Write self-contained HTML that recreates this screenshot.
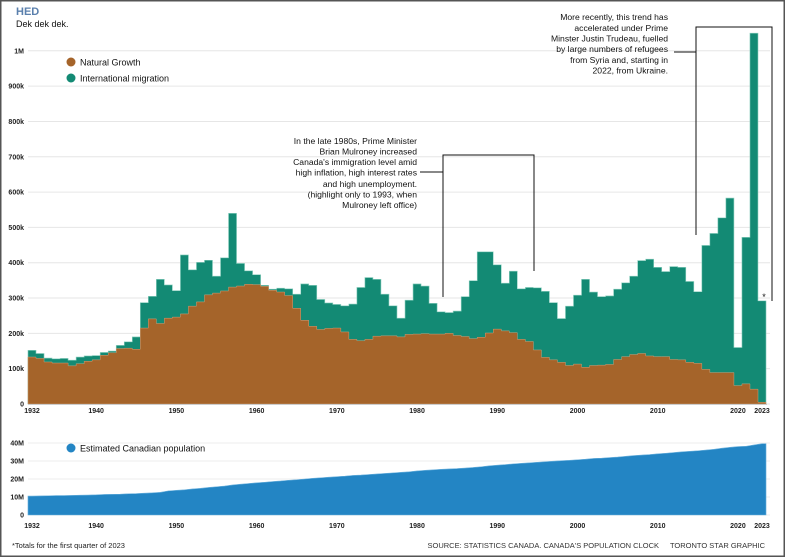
<!DOCTYPE html>
<html><head><meta charset="utf-8"><style>
html,body{margin:0;padding:0;background:#fff;}
body{width:785px;height:557px;overflow:hidden;font-family:"Liberation Sans",Arial,sans-serif;}
svg{display:block;}
text{font-family:"Liberation Sans",Arial,sans-serif;}
</style></head><body>
<svg id="chart" width="785" height="557" viewBox="0 0 785 557" xmlns="http://www.w3.org/2000/svg">
<rect x="0.75" y="0.75" width="783.5" height="555.5" fill="#fff" stroke="#555" stroke-width="1.5"/>
<text x="16" y="15" font-size="11" font-weight="bold" fill="#5b80ad">HED</text>
<text x="16" y="27" font-size="9" fill="#111">Dek dek dek.</text>
<g id="grid-top"></g>
<g id="bars"></g>
<g id="grid-bot"></g>
<g id="pop"></g>
<g id="axes"></g>
<g>
<circle cx="71" cy="62" r="4.5" fill="#a5642a"/>
<text x="80" y="65.5" font-size="9" fill="#111">Natural Growth</text>
<circle cx="71" cy="78" r="4.5" fill="#138a74"/>
<text x="80" y="81.5" font-size="9" fill="#111">International migration</text>
</g>
<g>
<circle cx="71" cy="448" r="4.5" fill="#2385c4"/>
<text x="80" y="451.5" font-size="9" fill="#111">Estimated Canadian population</text>
</g>
<g font-size="8.6" fill="#111" text-anchor="end">
<text x="417" y="144">In the late 1980s, Prime Minister</text>
<text x="417" y="154.5">Brian Mulroney increased</text>
<text x="417" y="165">Canada's immigration level amid</text>
<text x="417" y="175.5">high inflation, high interest rates</text>
<text x="417" y="187">and high unemployment.</text>
<text x="417" y="197.5">(highlight only to 1993, when</text>
<text x="417" y="208">Mulroney left office)</text>
<path d="M420 172H443M443 297V155H534V271" fill="none" stroke="#111" stroke-width="1"/>
</g>
<g font-size="8.6" fill="#111" text-anchor="end">
<text x="668" y="20">More recently, this trend has</text>
<text x="668" y="31">accelerated under Prime</text>
<text x="668" y="41.5">Minster Justin Trudeau, fuelled</text>
<text x="668" y="52">by large numbers of refugees</text>
<text x="668" y="63">from Syria and, starting in</text>
<text x="668" y="73.5">2022, from Ukraine.</text>
<path d="M674 52H696M696 235V27H772V301" fill="none" stroke="#111" stroke-width="1"/>
</g>
<text x="764" y="300" font-size="9" text-anchor="middle" fill="#111">*</text>
<text x="12" y="548" font-size="7.5" fill="#222">*Totals for the first quarter of 2023</text>
<text x="659" y="548" font-size="7.5" fill="#333" text-anchor="end">SOURCE: STATISTICS CANADA. CANADA'S POPULATION CLOCK</text>
<text x="765" y="548" font-size="7.5" fill="#333" text-anchor="end">TORONTO STAR GRAPHIC</text>
</svg>
<script>
const years = [];
for (let y = 1932; y <= 2023; y++) years.push(y);
const totalGrowth = [152,143,130,128,129,124,133,136,137,146,150,166,176,190,287,305,353,337,321,422,380,401,407,362,414,540,398,377,366,336,325,328,326,311,340,336,296,286,282,278,283,330,358,353,311,278,243,294,340,334,285,261,259,263,304,349,431,431,394,342,376,326,330,329,319,287,242,277,308,353,317,304,306,325,343,362,406,410,387,375,389,387,347,318,449,483,527,583,160,472,1050,292];
const naturalGrowth = [133,129,119,116,116,108,114,121,125,138,145,157,158,155,215,241,228,243,246,255,277,289,309,314,320,331,334,339,338,333,322,317,307,271,237,220,211,214,215,204,183,179,183,192,193,193,190,197,198,199,198,198,200,194,191,185,189,201,212,207,202,183,177,153,132,125,118,109,113,104,109,110,112,126,134,140,143,136,134,134,126,125,118,115,98,89,89,89,52,57,42,5];
const population = [10.5,10.6,10.7,10.8,10.8,10.9,11.0,11.1,11.2,11.4,11.5,11.6,11.8,11.9,12.1,12.3,12.6,13.4,13.7,14.0,14.5,14.8,15.3,15.7,16.1,16.7,17.1,17.5,17.9,18.2,18.6,18.9,19.3,19.6,20.0,20.4,20.7,21.0,21.3,21.6,22.0,22.2,22.5,22.8,23.1,23.4,23.7,24.0,24.5,24.8,25.1,25.4,25.6,25.8,26.1,26.4,26.8,27.3,27.7,28.0,28.4,28.7,29.0,29.3,29.6,29.9,30.2,30.4,30.7,31.0,31.4,31.6,31.9,32.2,32.6,33.0,33.3,33.6,34.0,34.3,34.7,35.1,35.4,35.7,36.1,36.5,37.1,37.6,38.0,38.2,38.9,39.6];
const topTicks = [0,100,200,300,400,500,600,700,800,900,1000];
const topTickLabels = ["0","100k","200k","300k","400k","500k","600k","700k","800k","900k","1M"];
const botTicks = [0,10,20,30,40];
const botTickLabels = ["0","10M","20M","30M","40M"];
const xTicks = [1932,1940,1950,1960,1970,1980,1990,2000,2010,2020,2023];

const NS = "http://www.w3.org/2000/svg";
const xs = y => 32 + (y - 1932) * 8.022;
const barW = 8.05;
const yTop = v => 404 - v * 0.3532;
const yBot = v => 515 - v * 1.8;
function mk(tag, attrs, parent){const e=document.createElementNS(NS,tag);for(const k in attrs)e.setAttribute(k,attrs[k]);parent.appendChild(e);return e;}

const gTop = document.getElementById('grid-top');
topTicks.forEach((t,i)=>{
  const l = mk('line',{x1:28,x2:770,y1:yTop(t),y2:yTop(t),stroke:'#e6e6e6','stroke-width':1},gTop);
  
  
  const tx = mk('text',{x:24,y:yTop(t)+2.5,'font-size':7,'font-weight':'bold','text-anchor':'end',fill:'#222'},gTop);
  tx.textContent = topTickLabels[i];
  
  
});
const gBars = document.getElementById('bars');
// build stepped areas from arrays
let tp = `M${xs(1932)-barW/2} ${yTop(0)}`, np = tp;
years.forEach((y,i)=>{
  const x0 = xs(y)-barW/2, x1 = xs(y)+barW/2;
  tp += `L${x0} ${yTop(totalGrowth[i])}L${x1} ${yTop(totalGrowth[i])}`;
  np += `L${x0} ${yTop(naturalGrowth[i])}L${x1} ${yTop(naturalGrowth[i])}`;
});
tp += `L${xs(2023)+barW/2} ${yTop(0)}Z`; np += `L${xs(2023)+barW/2} ${yTop(0)}Z`;
const mig = mk('path',{d:tp,fill:'#138a74',stroke:'#8fd0c0','stroke-width':0.6},gBars);


const nat = mk('path',{d:np,fill:'#a5642a',stroke:'#c9a07a','stroke-width':0.5},gBars);


const base = mk('line',{x1:28,x2:767,y1:404.5,y2:404.5,stroke:'#ccc','stroke-width':1},gBars);



const gBot = document.getElementById('grid-bot');
botTicks.forEach((t,i)=>{
  const l = mk('line',{x1:28,x2:770,y1:yBot(t),y2:yBot(t),stroke:'#eee','stroke-width':1},gBot);
  
  
  const tx = mk('text',{x:24,y:yBot(t)+2.5,'font-size':7,'font-weight':'bold','text-anchor':'end',fill:'#222'},gBot);
  tx.textContent = botTickLabels[i];
  
  
});
const gPop = document.getElementById('pop');
let pp = `M${xs(1932)-barW/2} ${yBot(0)}L${xs(1932)-barW/2} ${yBot(population[0])}`;
years.forEach((y,i)=>{ pp += `L${xs(y)} ${yBot(population[i])}`; });
pp += `L${xs(2023)+barW/2} ${yBot(population[population.length-1])}L${xs(2023)+barW/2} ${yBot(0)}Z`;
const pa = mk('path',{d:pp,fill:'#2385c4',stroke:'#6fb3de','stroke-width':0.6},gPop);



const gAx = document.getElementById('axes');
xTicks.forEach(y=>{
  [[413],[528]].forEach(([yy],k)=>{
    const tx = mk('text',{x:xs(y),y:yy,'font-size':7,'font-weight':'bold','text-anchor':'middle',fill:'#222'},gAx);
    tx.textContent = y;
    
    
  });
});
</script>
</body></html>
